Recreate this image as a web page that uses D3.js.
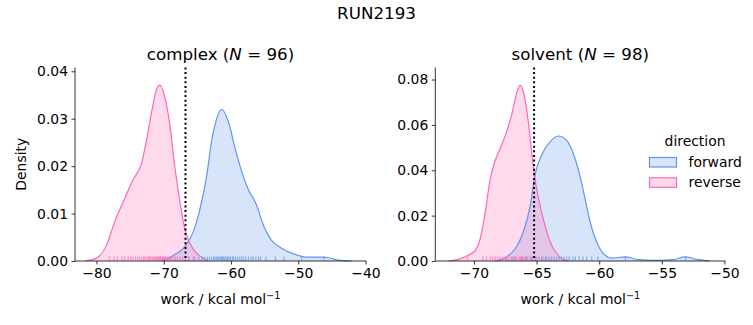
<!DOCTYPE html>
<html><head><meta charset="utf-8">
<script src="https://cdn.jsdelivr.net/npm/d3@7"></script>
<style>body{margin:0;background:#fff}svg{display:block}text{font-family:"DejaVu Sans",sans-serif;fill:#000}</style>
</head><body><svg id="c" width="753" height="325"></svg>
<script>
// ---- data ----
const suptitle = "RUN2193";
const directions = ["forward", "reverse"];
const colors = {forward: "#6495ED", reverse: "#FF69B4"};

const complexForwardKde = [[-70.3,0],[-68.4,0.0013],[-66.9,0.003],[-65.6,0.0062],[-64.6,0.0111],[-63.6,0.0181],[-62.9,0.0252],[-62.2,0.0297],[-61.4,0.032],[-60.4,0.0294],[-59.4,0.0238],[-58.4,0.0188],[-57.5,0.0153],[-56.2,0.0118],[-55.2,0.0076],[-54.0,0.0044],[-52.5,0.0027],[-50.5,0.0014],[-48.5,0.0008],[-46.1,0.0008],[-44.1,0.0002],[-42.1,0]];
const complexReverseKde = [[-81.7,0],[-80.0,0.0006],[-78.5,0.0034],[-77.3,0.0083],[-75.8,0.0132],[-74.6,0.0171],[-73.3,0.0206],[-72.6,0.0252],[-71.8,0.0315],[-71.1,0.0361],[-70.6,0.0371],[-69.8,0.0343],[-69.1,0.0287],[-68.4,0.0203],[-67.6,0.0125],[-66.9,0.0069],[-66.1,0.0037],[-65.1,0.0016],[-64.1,0.0006],[-63.4,0]];
const solventForwardKde = [[-68.3,0],[-67.4,0.0018],[-66.7,0.0055],[-66.06,0.0128],[-65.5,0.0246],[-65.13,0.0378],[-64.6,0.0466],[-63.93,0.0525],[-63.27,0.0551],[-62.6,0.0532],[-61.93,0.0452],[-61.45,0.0355],[-61.13,0.0275],[-60.73,0.0172],[-60.2,0.0084],[-59.67,0.0033],[-59.0,0.0013],[-57.94,0.0018],[-56.88,0.0006],[-55.4,0.0003],[-54.1,0.0006],[-53.15,0.0018],[-52.2,0.0007],[-51.15,0]];
const solventReverseKde = [[-72.05,0],[-71.25,0.0007],[-70.46,0.0025],[-69.9,0.0047],[-69.5,0.0099],[-69.1,0.0216],[-68.7,0.0363],[-68.3,0.0444],[-67.8,0.051],[-67.4,0.0569],[-67.0,0.0643],[-66.6,0.0738],[-66.33,0.0775],[-66.06,0.0745],[-65.66,0.0613],[-65.39,0.048],[-65.13,0.0363],[-64.73,0.0246],[-64.33,0.0157],[-63.8,0.0069],[-63.27,0.0025],[-62.87,0.0006],[-62.47,0]];

const complexForwardRug = [-66.3,-65.4,-64.8,-64.3,-63.9,-63.5,-63.2,-62.9,-62.6,-62.4,-62.2,-62.0,-61.8,-61.6,-61.4,-61.3,-61.1,-60.9,-60.7,-60.5,-60.3,-60.1,-59.8,-59.6,-59.3,-59.0,-58.7,-58.4,-58.1,-57.8,-57.4,-57.0,-56.7,-56.3,-55.9,-55.6,-54.8,-53.4,-52.1,-49.5,-46.2];
const complexReverseRug = [-78.1,-77.4,-76.9,-76.2,-75.8,-75.3,-74.9,-74.6,-74.2,-73.9,-73.6,-73.3,-73.0,-72.8,-72.5,-72.3,-72.1,-71.9,-71.7,-71.5,-71.3,-71.2,-71.0,-70.9,-70.7,-70.6,-70.5,-70.3,-70.2,-70.0,-69.9,-69.7,-69.5,-69.3,-69.1,-68.9,-68.6,-68.3,-68.0,-67.6,-67.2,-66.8,-66.3,-65.6];
const solventForwardRug = [-66.8,-66.2,-65.8,-65.4,-65.1,-64.8,-64.5,-64.3,-64.0,-63.8,-63.6,-63.4,-63.2,-63.0,-62.8,-62.6,-62.4,-62.1,-61.9,-61.6,-61.3,-61.0,-60.6,-60.1,-57.9,-53.1];
const solventReverseRug = [-70.5,-69.3,-69.0,-68.7,-68.5,-68.3,-68.1,-67.9,-67.7,-67.5,-67.4,-67.2,-67.0,-66.9,-66.7,-66.6,-66.4,-66.3,-66.2,-66.1,-66.0,-65.9,-65.7,-65.5,-65.3,-65.0,-64.6,-64.2];

const complexXTicks = [-80,-70,-60,-50,-40];
const complexYTicks = [0,0.01,0.02,0.03,0.04];
const solventXTicks = [-70,-65,-60,-55,-50];
const solventYTicks = [0,0.02,0.04,0.06,0.08];
const complexXDomain = [-83.2,-39.93];
const solventXDomain = [-73.09,-49.93];
const complexYMax = 0.0408, solventYMax = 0.0853;
const complexMarker = -66.77, solventMarker = -65.2;

const panels = [
  {name:"complex", n:96, left:75, right:366, xDomain:complexXDomain, yMax:complexYMax, xTicks:complexXTicks, yTicks:complexYTicks,
   kde:{forward:complexForwardKde, reverse:complexReverseKde}, rug:{forward:complexForwardRug, reverse:complexReverseRug}, marker:complexMarker, ylabel:true},
  {name:"solvent", n:98, left:435.3, right:725.3, xDomain:solventXDomain, yMax:solventYMax, xTicks:solventXTicks, yTicks:solventYTicks,
   kde:{forward:solventForwardKde, reverse:solventReverseKde}, rug:{forward:solventForwardRug, reverse:solventReverseRug}, marker:solventMarker, ylabel:false}
];

const svg = d3.select("#c");
const topY = 67.5, bottomY = 261;
const fmt = d => d3.format(".2f")(d);
const fmtX = d => (d<0 ? "\u2212" : "") + Math.abs(d);

svg.append("text").attr("x",376.5).attr("y",18.5).attr("text-anchor","middle").style("font-size","16.7px").text(suptitle);

panels.forEach(p => {
  const x = d3.scaleLinear().domain(p.xDomain).range([p.left,p.right]);
  const y = d3.scaleLinear().domain([0,p.yMax]).range([bottomY,topY]);
  const g = svg.append("g");
  directions.forEach(dir => {
    g.append("path").datum(p.kde[dir])
      .attr("d", d3.area().x(d=>x(d[0])).y0(y(0)).y1(d=>y(d[1])).curve(d3.curveMonotoneX))
      .attr("fill", colors[dir]).attr("fill-opacity",0.25).attr("stroke","none");
  });
  directions.forEach(dir => {
    g.append("path").datum(p.kde[dir])
      .attr("d", d3.line().x(d=>x(d[0])).y(d=>y(d[1])).curve(d3.curveMonotoneX))
      .attr("fill","none").attr("stroke", colors[dir]).attr("stroke-width",1.2);
  });
  directions.forEach(dir => {
    g.selectAll(null).data(p.rug[dir]).enter().append("line")
      .attr("x1",d=>x(d)).attr("x2",d=>x(d)).attr("y1",bottomY-0.5).attr("y2",bottomY-4.4)
      .attr("stroke",colors[dir]).attr("stroke-opacity",0.75).attr("stroke-width",1.1);
  });
  g.append("line").attr("x1",x(p.marker)).attr("x2",x(p.marker)).attr("y1",topY).attr("y2",bottomY)
    .attr("stroke","#000").attr("stroke-width",2).attr("stroke-dasharray","2,2.6");

  const xa = g.append("g").attr("transform",`translate(0,${bottomY})`)
    .call(d3.axisBottom(x).tickValues(p.xTicks).tickFormat(fmtX).tickSize(3.5).tickPadding(3.5));
  const ya = g.append("g").attr("transform",`translate(${p.left},0)`)
    .call(d3.axisLeft(y).tickValues(p.yTicks).tickFormat(fmt).tickSize(3.5).tickPadding(3.5));
  [xa,ya].forEach(a => {
    a.selectAll("text").style("font-size","13.9px").style("font-family","DejaVu Sans").attr("fill","#000");
    a.selectAll("line").attr("stroke","#000").attr("stroke-width",0.8);
    a.select(".domain").attr("stroke","#000").attr("stroke-width",0.8);
  });
  xa.select(".domain").attr("d",`M${p.left},0H${p.right}`);
  ya.select(".domain").attr("d",`M0,${topY}V${bottomY}`);

  const cx = (p.left+p.right)/2;
  const t = g.append("text").attr("x",cx).attr("y",59.5).attr("text-anchor","middle").style("font-size","16.7px");
  t.append("tspan").text(p.name+" (");
  t.append("tspan").style("font-style","italic").text("N");
  t.append("tspan").text(" = "+p.n+")");

  const xl = g.append("text").attr("x",cx).attr("y",304).attr("text-anchor","middle").style("font-size","13.9px");
  xl.append("tspan").text("work / kcal mol");
  xl.append("tspan").attr("dy",-5).style("font-size","9.7px").text("\u22121");

  if (p.ylabel) {
    g.append("text").attr("transform",`translate(26,${(topY+bottomY)/2}) rotate(-90)`).attr("text-anchor","middle").style("font-size","13.9px").text("Density");
  }
});

// legend
const lg = svg.append("g");
lg.append("text").attr("x",695).attr("y",146).attr("text-anchor","middle").style("font-size","13.9px").text("direction");
directions.forEach((dir,i) => {
  const yy = 157.5 + i*20.3;
  lg.append("rect").attr("x",649.5).attr("y",yy).attr("width",27).attr("height",9.5)
    .attr("fill",colors[dir]).attr("fill-opacity",0.25).attr("stroke",colors[dir]).attr("stroke-width",1.2);
  lg.append("text").attr("x",688.5).attr("y",yy+9.5).style("font-size","13.9px").text(dir);
});
</script></body></html>
